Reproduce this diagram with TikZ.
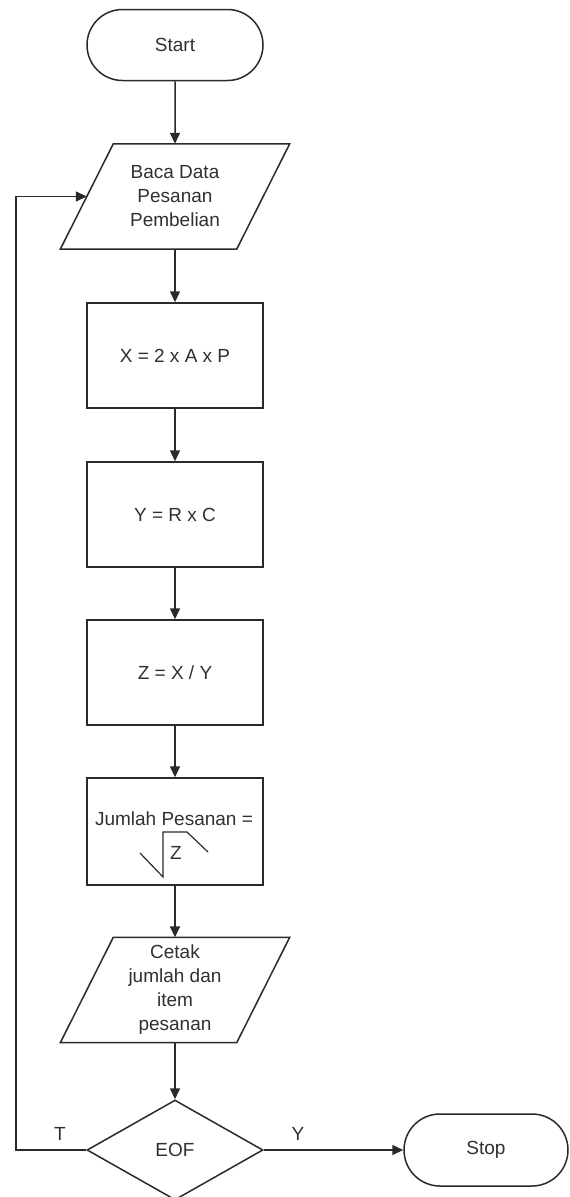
\documentclass[tikz,border=0pt]{standalone}
\usepackage{fontspec}
\setmainfont{Liberation Sans}
\usetikzlibrary{shapes.geometric,shapes.misc,arrows.meta}

\definecolor{ink}{HTML}{2A2A2A}
\definecolor{txt}{HTML}{303030}

\tikzset{
  line/.style={draw=ink, line width=1.5pt},
  arr/.style={line, -{Triangle[length=11pt,width=10pt]}},
  lbl/.style={text=txt, font=\fontsize{19}{24}\selectfont, align=center, inner sep=0pt},
  terminal/.style={line, rounded rectangle, minimum width=176pt, minimum height=71pt, lbl},
  process/.style={line, rectangle, minimum width=176pt, minimum height=105pt, lbl},
  iobox/.style={rectangle, minimum width=176pt, minimum height=105pt, lbl},
  decision/.style={line, diamond, minimum width=176pt, minimum height=100pt, inner sep=0pt, lbl},
}

\begin{document}
\begin{tikzpicture}[x=1pt, y=-1pt]
  \useasboundingbox (0,0) rectangle (570,1197);

  % main column
  \node[terminal] (start) at (175,45) {Start};

  \node[iobox] (read) at (175,196.5) {Baca Data\\Pesanan\\Pembelian};
  \draw[line] ([xshift=26.5pt]read.north west) -- ([xshift=26.5pt]read.north east)
    -- ([xshift=-26.5pt]read.south east) -- ([xshift=-26.5pt]read.south west) -- cycle;

  \node[process] (px) at (175,355.5) {X = 2 x A x P};
  \node[process] (py) at (175,514.5) {Y = R x C};
  \node[process] (pz) at (175,672.5) {Z = X / Y};

  % order quantity: square root of Z
  \node[process, minimum height=107pt] (pq) at (175,831.5) {};
  \node[lbl] (pqtext) at (174,819) {Jumlah Pesanan =};
  \node[lbl] (pqz) at (176,853) {Z};
  \draw[line, line width=1.2pt] (140,853) -- (163,877) -- (163,832) -- (187,832) -- (208,852);

  \node[iobox] (print) at (175,990) {Cetak\\jumlah dan\\item\\pesanan};
  \draw[line] ([xshift=26.5pt]print.north west) -- ([xshift=26.5pt]print.north east)
    -- ([xshift=-26.5pt]print.south east) -- ([xshift=-26.5pt]print.south west) -- cycle;

  \node[decision] (eof) at (175,1150) {EOF};
  \node[terminal, minimum width=164pt, minimum height=72pt] (stop) at (486,1150) {Stop};

  % connectors
  \draw[arr] (start) -- (read);
  \draw[arr] (read) -- (px);
  \draw[arr] (px) -- (py);
  \draw[arr] (py) -- (pz);
  \draw[arr] (pz) -- (pq);
  \draw[arr] (pq) -- (print);
  \draw[arr] (print) -- (eof);
  \draw[arr] (eof.east) -- (stop.west);

  \coordinate (loopbot) at (16,1150);
  \coordinate (looptop) at (16,196.5);
  \draw[arr] (eof.west) -- (loopbot) -- (looptop) -- (read.west);

  % branch labels
  \node[lbl] (tlabel) at (60,1134) {T};
  \node[lbl] (ylabel) at (298,1134) {Y};
\end{tikzpicture}
\end{document}
